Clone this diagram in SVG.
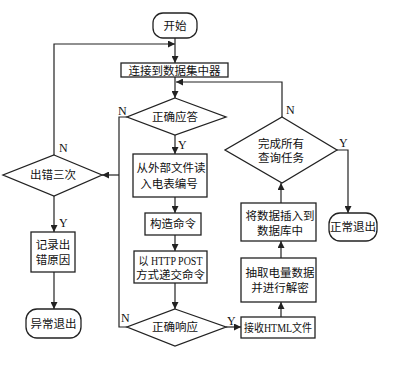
<svg xmlns="http://www.w3.org/2000/svg" width="405" height="368" viewBox="0 0 405 368">
<style>
.b{fill:#fff;stroke:#222;stroke-width:1.3}
.t{font-family:"Liberation Serif","Noto Sans CJK SC",serif;font-size:11.5px;fill:#111;text-anchor:middle}
.l{font-family:"Liberation Serif",serif;font-size:12px;fill:#111}
.c{fill:none;stroke:#222;stroke-width:1.2}
</style>
<defs>
<marker id="a" viewBox="0 0 10 10" refX="10" refY="5" markerWidth="7" markerHeight="7" markerUnits="userSpaceOnUse" orient="auto">
<path d="M0,0 L10,5 L0,10 Z" fill="#222"/>
</marker>
</defs>
<rect width="405" height="368" fill="#fff"/>
<g id="connectors">
<path class="c" d="M175,38 V63" marker-end="url(#a)"/>
<path class="c" d="M54,155 V44 H175" marker-end="url(#a)"/>
<path class="c" d="M175,77 V98" marker-end="url(#a)"/>
<path class="c" d="M282,117 V82 H176" marker-end="url(#a)"/>
<path class="c" d="M127,117 H119 V327 H127"/>
<path class="c" d="M119,175 H102" marker-end="url(#a)"/>
<path class="c" d="M54,196 V232" marker-end="url(#a)"/>
<path class="c" d="M54,272 V309" marker-end="url(#a)"/>
<path class="c" d="M175,135 V154" marker-end="url(#a)"/>
<path class="c" d="M175,197 V213" marker-end="url(#a)"/>
<path class="c" d="M175,235 V251" marker-end="url(#a)"/>
<path class="c" d="M175,283 V309" marker-end="url(#a)"/>
<path class="c" d="M226,327 H241" marker-end="url(#a)"/>
<path class="c" d="M281,317 V302" marker-end="url(#a)"/>
<path class="c" d="M281,258 V241" marker-end="url(#a)"/>
<path class="c" d="M281,203 V183" marker-end="url(#a)"/>
<path class="c" d="M337,150 H348 V213" marker-end="url(#a)"/>
<text class="l" x="118" y="115">N</text>
<text class="l" x="59" y="152">N</text>
<text class="l" x="59" y="227">Y</text>
<text class="l" x="178" y="149">Y</text>
<text class="l" x="286" y="114">N</text>
<text class="l" x="339" y="147">Y</text>
<text class="l" x="121" y="322">N</text>
<text class="l" x="227" y="325">Y</text>
</g>
<g id="start"><rect class="b" x="153" y="13" width="44" height="25" rx="10"/><text class="t" x="175" y="30">开始</text></g>
<g id="connect"><rect class="b" x="121" y="63" width="107" height="14"/><text class="t" x="174.5" y="74.5">连接到数据集中器</text></g>
<g id="ack"><polygon class="b" points="175,98 226,117 175,135 127,117"/><text class="t" x="175" y="121">正确应答</text></g>
<g id="err3"><polygon class="b" points="54,155 102,175 54,196 3,175"/><text class="t" x="53" y="179">出错三次</text></g>
<g id="log"><rect class="b" x="31" y="232" width="44" height="40"/><text class="t" x="53" y="249">记录出</text><text class="t" x="53" y="264">错原因</text></g>
<g id="abexit"><rect class="b" x="26" y="309" width="55" height="29" rx="11"/><text class="t" x="53.5" y="328">异常退出</text></g>
<g id="read"><rect class="b" x="133" y="154" width="74" height="43"/><text class="t" x="171" y="172">从外部文件读</text><text class="t" x="169" y="188">入电表编号</text></g>
<g id="build"><rect class="b" x="145" y="213" width="56" height="22"/><text class="t" x="173" y="228">构造命令</text></g>
<g id="post"><rect class="b" x="134" y="251" width="73" height="32"/><text class="t" x="170.5" y="265" textLength="64" lengthAdjust="spacingAndGlyphs">以 HTTP POST</text><text class="t" x="170.5" y="279">方式递交命令</text></g>
<g id="resp"><polygon class="b" points="175,309 226,327 175,346 127,327"/><text class="t" x="175" y="331">正确响应</text></g>
<g id="recv"><rect class="b" x="241" y="317" width="74" height="21"/><text class="t" x="278" y="331.5" textLength="68" lengthAdjust="spacingAndGlyphs">接收HTML文件</text></g>
<g id="extract"><rect class="b" x="241" y="258" width="75" height="44"/><text class="t" x="280" y="277">抽取电量数据</text><text class="t" x="280" y="292">并进行解密</text></g>
<g id="insert"><rect class="b" x="241" y="203" width="75" height="38"/><text class="t" x="280" y="220">将数据插入到</text><text class="t" x="280" y="235">数据库中</text></g>
<g id="done"><polygon class="b" points="282,117 337,150 282,183 225,150"/><text class="t" x="281" y="148">完成所有</text><text class="t" x="281" y="162">查询任务</text></g>
<g id="exit"><rect class="b" x="329" y="213" width="48" height="28" rx="11"/><text class="t" x="353" y="231">正常退出</text></g>
</svg>
